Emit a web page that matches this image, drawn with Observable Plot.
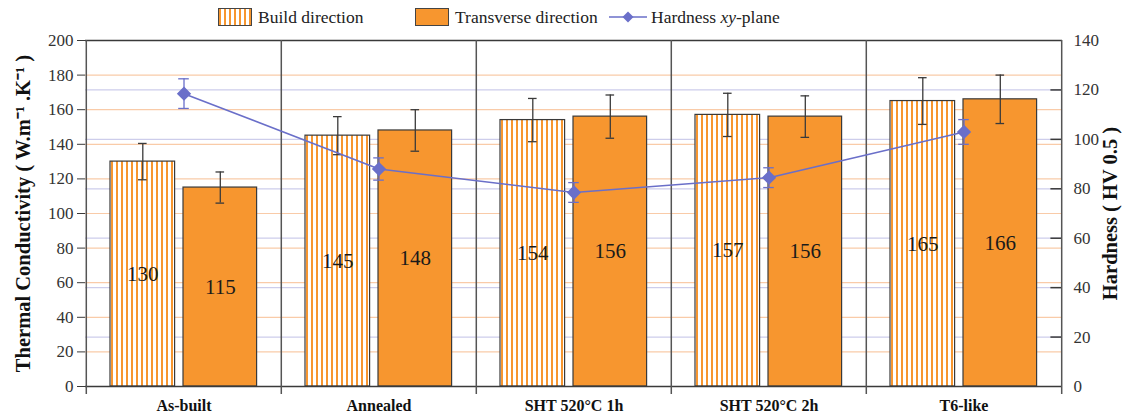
<!DOCTYPE html>
<html>
<head>
<meta charset="utf-8">
<script src="https://cdn.jsdelivr.net/npm/d3@7"></script>
<script src="https://cdn.jsdelivr.net/npm/@observablehq/plot@0.6"></script>
<style>
  html, body { margin: 0; padding: 0; background: white; }
  #wrap { position: relative; width: 1139px; font-family: "Liberation Serif", serif; }
  #legend { position: relative; height: 32px; width: 1139px; font-size: 17.5px; color: #222; }
  .item { position: absolute; top: 0; height: 34px; display: flex; align-items: center; }
  .sw { width: 34px; height: 18px; border: 1.3px solid #444; box-sizing: border-box; margin-right: 6px; }
  .hatch { background: repeating-linear-gradient(90deg, #F7962F 0 2px, #fff 2px 5px); }
  .solid { background: #F7962F; }
  svg.plot { display: block; }
</style>
</head>
<body>
<div id="wrap">
  <div id="legend">
    <div class="item" style="left:218px"><div class="sw hatch"></div><span>Build direction</span></div>
    <div class="item" style="left:415px"><div class="sw solid"></div><span>Transverse direction</span></div>
    <div class="item" style="left:609px">
      <svg width="38" height="14" style="margin-right:4px"><line x1="0" y1="7" x2="38" y2="7" stroke="#6A6FC9" stroke-width="1.6"/><path d="M19,1.5 L24.5,7 L19,12.5 L13.5,7 Z" fill="#6A6FC9"/></svg>
      <span>Hardness <i>xy</i>-plane</span>
    </div>
  </div>
  <div id="chart"></div>
</div>
<script>
const categories = ["As-built", "Annealed", "SHT 520°C 1h", "SHT 520°C 2h", "T6-like"];
const buildTC = [130, 145, 154, 157, 165];
const buildErr = [10.5, 11, 12.5, 12.5, 13.5];
const transTC = [115, 148, 156, 156, 166];
const transErr = [9, 12, 12.5, 12, 14];
const hardness = [118.5, 88, 78.5, 84.5, 103];
const hardnessErr = [6, 4.5, 4, 4, 5];
const leftTicks = [0, 20, 40, 60, 80, 100, 120, 140, 160, 180, 200];
const rightTicks = [0, 20, 40, 60, 80, 100, 120, 140];

const W = 1139, H = 385, ML = 85, MR = 77, MT = 8, MB = 31;
const bw = (W - ML - MR) / categories.length;
const k = 200 / 140; // hardness -> left scale

const data = categories.map((c, i) => ({
  cat: c, b: buildTC[i], be: buildErr[i], t: transTC[i], te: transErr[i],
  h: hardness[i] * k, he: hardnessErr[i] * k
}));

// bar geometry inside each band (pixels)
const bL = 24, bR = 89, tL = 97, tR = 171;
const bC = (bL + bR) / 2 - bw / 2, tC = (tL + tR) / 2 - bw / 2;
const cap = 9, hcap = 11;
const capInset = (w) => (bw - w) / 2;

const orange = "#F7962F", dark = "#3a3a3a", blue = "#6A6FC9";

const chart = Plot.plot({
  width: W, height: H,
  marginLeft: ML, marginRight: MR, marginTop: MT, marginBottom: MB,
  style: { fontFamily: "Liberation Serif, serif", fontSize: "15px", color: "#333", background: "white" },
  x: { type: "band", domain: categories, padding: 0, axis: null },
  y: { domain: [0, 200], axis: null },
  marks: [
    // gridlines
    Plot.ruleY(leftTicks.filter(v => v > 0 && v < 200), { stroke: "#F9CBA8", strokeWidth: 1.2 }),
    Plot.ruleY(rightTicks.filter(v => v > 0 && v < 140), { y: d => d * k, stroke: "#CDCDEB", strokeWidth: 1.2 }),
    // bars
    Plot.barY(data, { x: "cat", y: "b", fill: "url(#hatch)", stroke: dark, strokeWidth: 1.2, insetLeft: bL, insetRight: bw - bR }),
    Plot.barY(data, { x: "cat", y: "t", fill: orange, stroke: dark, strokeWidth: 1.2, insetLeft: tL, insetRight: bw - tR }),
    // value labels
    Plot.text(data, { x: "cat", y: d => d.b / 2, text: d => String(d.b), dx: bC, fontSize: 21, fill: "#1a1a1a" }),
    Plot.text(data, { x: "cat", y: d => d.t / 2, text: d => String(d.t), dx: tC, fontSize: 21, fill: "#1a1a1a" }),
    // bar error bars
    Plot.ruleX(data, { x: "cat", y1: d => d.b - d.be, y2: d => d.b + d.be, dx: bC, stroke: dark, strokeWidth: 1.3 }),
    Plot.tickY(data, { x: "cat", y: d => d.b - d.be, dx: bC, insetLeft: capInset(cap), insetRight: capInset(cap), stroke: dark, strokeWidth: 1.3 }),
    Plot.tickY(data, { x: "cat", y: d => d.b + d.be, dx: bC, insetLeft: capInset(cap), insetRight: capInset(cap), stroke: dark, strokeWidth: 1.3 }),
    Plot.ruleX(data, { x: "cat", y1: d => d.t - d.te, y2: d => d.t + d.te, dx: tC, stroke: dark, strokeWidth: 1.3 }),
    Plot.tickY(data, { x: "cat", y: d => d.t - d.te, dx: tC, insetLeft: capInset(cap), insetRight: capInset(cap), stroke: dark, strokeWidth: 1.3 }),
    Plot.tickY(data, { x: "cat", y: d => d.t + d.te, dx: tC, insetLeft: capInset(cap), insetRight: capInset(cap), stroke: dark, strokeWidth: 1.3 }),
    // frame and category dividers
    Plot.ruleY([0, 200], { stroke: dark, strokeWidth: 1.5 }),
    Plot.ruleX(categories, { dx: -bw / 2, insetBottom: -8, stroke: "#555", strokeWidth: 1.5 }),
    Plot.ruleX(categories.slice(-1), { dx: bw / 2, insetBottom: -8, stroke: "#555", strokeWidth: 1.5 }),
    // hardness line
    Plot.line(data, { x: "cat", y: "h", stroke: blue, strokeWidth: 1.6 }),
    Plot.ruleX(data, { x: "cat", y1: d => d.h - d.he, y2: d => d.h + d.he, stroke: blue, strokeWidth: 1.3 }),
    Plot.tickY(data, { x: "cat", y: d => d.h - d.he, insetLeft: capInset(hcap), insetRight: capInset(hcap), stroke: blue, strokeWidth: 1.3 }),
    Plot.tickY(data, { x: "cat", y: d => d.h + d.he, insetLeft: capInset(hcap), insetRight: capInset(hcap), stroke: blue, strokeWidth: 1.3 }),
    Plot.dot(data, { x: "cat", y: "h", symbol: "diamond2", r: 5.5, fill: blue, stroke: blue }),
    // axes
    Plot.axisY({ anchor: "left", ticks: leftTicks, tickSize: 8, tickPadding: 4, label: null, fontSize: 17, stroke: dark }),
    Plot.axisY({ anchor: "right", ticks: rightTicks.map(v => v * k), tickFormat: v => String(Math.round(v / k)), tickSize: 0, tickPadding: 11, label: null, fontSize: 17 }),
    Plot.tickY(rightTicks.filter(v => v > 0 && v < 140), { x: () => categories[categories.length - 1], y: d => d * k, insetLeft: bw - 11, stroke: dark, strokeWidth: 1.5 }),
    Plot.axisX({ anchor: "bottom", tickSize: 0, tickPadding: 13, label: null, fontWeight: "bold", fontSize: 16, fill: "#111" }),
    // axis titles
    Plot.text(["Thermal Conductivity ( W.m⁻¹ .K⁻¹ )"], { frameAnchor: "left", textAnchor: "middle", rotate: -90, dx: -62, fontWeight: "bold", fontSize: 20.5, fill: "#111" }),
    Plot.text(["Hardness ( HV 0.5 )"], { frameAnchor: "right", textAnchor: "middle", rotate: -90, dx: 48, fontWeight: "bold", fontSize: 20.5, fill: "#111" })
  ]
});

chart.insertAdjacentHTML("afterbegin",
  `<defs><pattern id="hatch" patternUnits="userSpaceOnUse" width="5" height="10">
     <rect width="5" height="10" fill="#fff"/><rect x="1" width="2" height="10" fill="${orange}"/>
   </pattern></defs>`);
document.getElementById("chart").appendChild(chart);
</script>
</body>
</html>
